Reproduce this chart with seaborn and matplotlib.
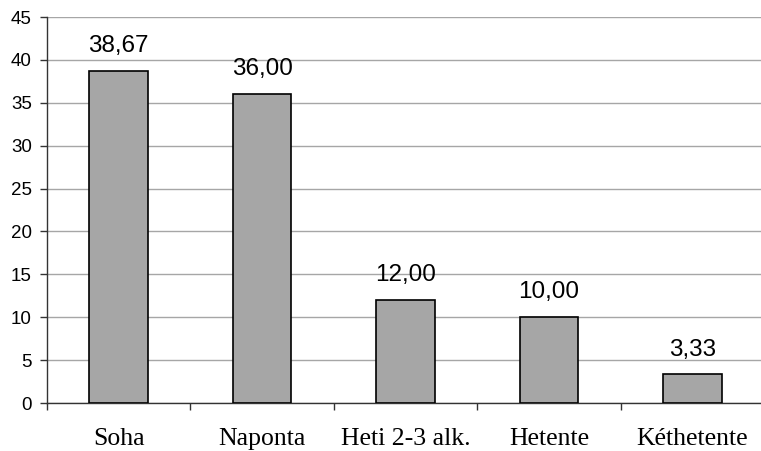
import matplotlib
matplotlib.use("Agg")
import matplotlib.pyplot as plt
import seaborn as sns
import pandas as pd

categories = ["Soha", "Naponta", "Heti 2-3 alk.", "Hetente", "Kéthetente"]
values = [38.67, 36.00, 12.00, 10.00, 3.33]
yticks = [0, 5, 10, 15, 20, 25, 30, 35, 40, 45]

sns.set_theme(style="white")
plt.rcParams['font.family'] = ['Liberation Sans', 'DejaVu Sans']

df = pd.DataFrame({"cat": categories, "val": values})

fig = plt.figure(figsize=(7.61, 4.51), dpi=100)
ax = fig.add_axes([47/761, 48/451, 717/761, 386/451])

sns.barplot(data=df, x="cat", y="val", ax=ax, color="#A6A6A6",
            saturation=1, width=0.41, edgecolor="black", linewidth=1.2,
            zorder=3)

labels = [f"{v:.2f}".replace(".", ",") for v in values]
ax.bar_label(ax.containers[0], labels=labels, padding=10, fontsize=17.5,
             color="black")

ax.set_ylim(0, 45)
ax.set_xlim(-0.5, 4.5)
ax.set_yticks(yticks)
ax.set_yticklabels([str(t) for t in yticks], fontsize=13.5, color="black")
ax.yaxis.grid(True, color="#A6A6A6", linewidth=1.0, zorder=0)
ax.set_axisbelow(True)

# category boundary ticks (major), category labels (minor)
ax.set_xticks([-0.5, 0.5, 1.5, 2.5, 3.5, 4.5])
ax.set_xticklabels([""] * 6)
ax.set_xticks(range(len(categories)), minor=True)
ax.set_xticklabels(categories, minor=True, fontsize=18.5,
                   family=['Liberation Serif', 'DejaVu Serif'], color="black")
ax.tick_params(axis="x", which="major", length=5, width=1, color="#333333",
               direction="out", bottom=True)
ax.tick_params(axis="x", which="minor", length=0, pad=18, bottom=True)
ax.tick_params(axis="y", length=5, width=1, color="#333333", direction="out",
               left=True, pad=6)

ax.set_xlabel("")
ax.set_ylabel("")
for s in ["top", "right"]:
    ax.spines[s].set_visible(False)
for s in ["left", "bottom"]:
    ax.spines[s].set_color("#333333")
    ax.spines[s].set_linewidth(1.0)

fig.savefig("out.png", dpi=100)
